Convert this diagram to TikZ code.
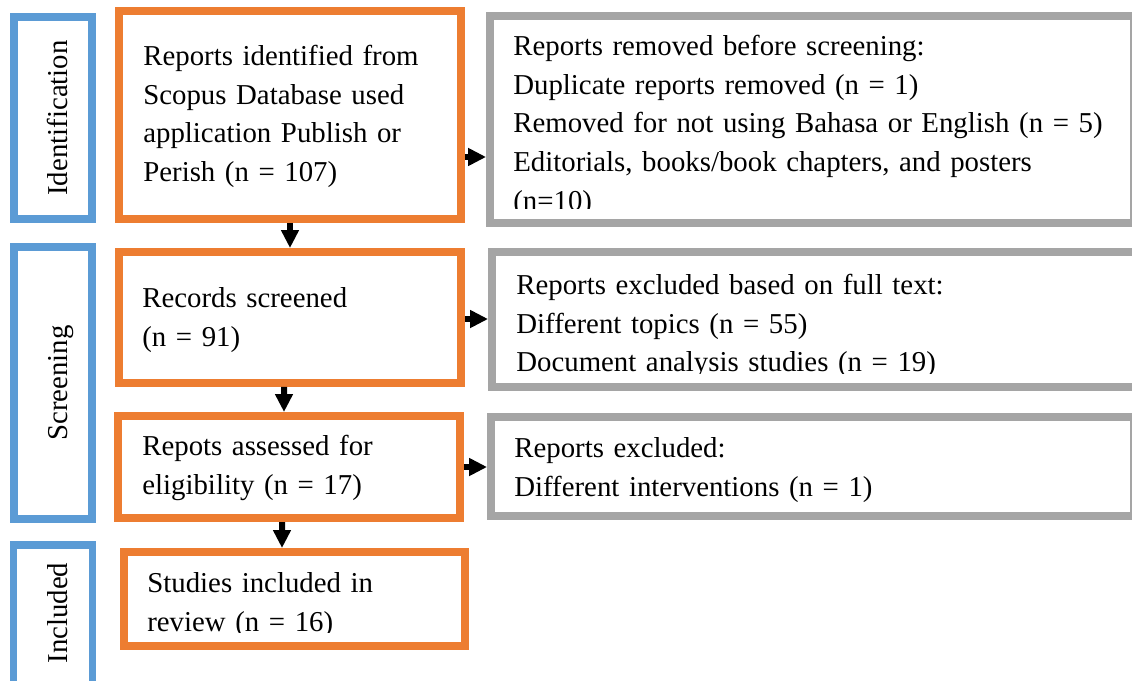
\documentclass[tikz,border=0pt]{standalone}
\usepackage{fontspec}
\setmainfont{Liberation Serif}
\usepackage{tikz}
\usetikzlibrary{arrows.meta, positioning}

\definecolor{stageblue}{HTML}{5B9BD5}
\definecolor{keeporange}{HTML}{ED7D31}
\definecolor{dropgray}{HTML}{A5A5A5}

\begin{document}
\begin{tikzpicture}[
    % One unit = one pixel of the layout, y axis pointing down
    x=0.02cm, y=-0.02cm,
    >={Triangle[length=0.36cm, width=0.34cm]},
    stage/.style={draw=stageblue, line width=0.15cm, rotate=90, inner sep=0pt,
        font=\fontsize{16.4}{22}\selectfont, text height=16pt, text depth=0pt},
    keep/.style={draw=keeporange, line width=0.16cm, inner sep=0pt},
    drop/.style={draw=dropgray, line width=0.16cm, inner sep=0pt},
    txt/.style={anchor=north west, inner sep=0pt, text width=13cm, align=left,
        font=\fontsize{16.4}{22}\selectfont, execute at begin node=\strut},
    flow/.style={->, line width=0.12cm}
]
    \useasboundingbox (0,0) rectangle (1132,680);
    \clip (0,0) rectangle (1132,680);

    % --- Stage columns ---
    \node[stage, minimum width=4.05cm, minimum height=1.57cm] (ident) at (53,118) {Identification};
    \node[stage, minimum width=5.45cm, minimum height=1.57cm] (screen) at (53,383) {Screening};
    \draw[stageblue, line width=0.15cm] (13.75,544.75) rectangle (92.25,760);
    \node[stage, draw=none] (incl) at (53,613) {Included};

    % --- Main flow boxes ---
    \node[keep, minimum width=6.84cm, minimum height=4.16cm] (idrep) at (290,115) {};
    \node[keep, minimum width=6.84cm, minimum height=2.62cm] (recs) at (290,317.5) {};
    \node[keep, minimum width=6.84cm, minimum height=2.04cm] (elig) at (289,467) {};
    \node[keep, minimum width=6.82cm, minimum height=1.88cm] (stud) at (294.5,599) {};

    % --- Side boxes (run off the right edge) ---
    \node[drop, minimum width=12.88cm, minimum height=4.15cm] (rem) at (812,119.25) {};
    \node[drop, minimum width=13.16cm, minimum height=2.7cm] (full) at (821,319.5) {};
    \node[drop, minimum width=12.86cm, minimum height=1.98cm] (excl) at (812.5,466.5) {};

    % --- Texts ---
    \node[txt] (idreptxt) at (143,38) {Reports identified from\\
        Scopus Database used\\ application Publish or\\ Perish (n = 107)};
    \node[txt] (recstxt) at (142,280) {Records screened\\ (n = 91)};
    \node[txt] (eligtxt) at (142,428) {Repots assessed for\\ eligibility (n = 17)};
    \begin{scope}
        \clip (128,556) rectangle (461,632);
        \node[txt] (studtxt) at (147,565) {Studies included in\\ review (n = 16)};
    \end{scope}

    \begin{scope}
        \clip (494,19) rectangle (1130,208);
        \node[txt] (remtxt) at (513,28) {Reports removed before screening:\\
            Duplicate reports removed (n = 1)\\
            Removed for not using Bahasa or English (n = 5)\\
            Editorials, books/book chapters, and posters\\ (n=10)};
    \end{scope}
    \begin{scope}
        \clip (496,257) rectangle (1132,373);
        \node[txt] (fulltxt) at (516,267) {Reports excluded based on full text:\\
            Different topics (n = 55)\\ Document analysis studies (n = 19)};
    \end{scope}
    \node[txt] (excltxt) at (514,430) {Reports excluded:\\ Different interventions (n = 1)};

    % --- Arrows ---
    \draw[flow] (idrep.south) -- (recs.north);
    \draw[flow] ([xshift=-0.12cm]recs.south) -- ([xshift=-0.1cm]elig.north);
    \draw[flow] ([xshift=-0.14cm]elig.south) -- ([xshift=-0.25cm]stud.north);

    \draw[flow] ([yshift=-0.84cm]idrep.east) -- ([yshift=-0.84cm]idrep.east -| rem.west);
    \draw[flow] ([yshift=-0.03cm]recs.east) -- ([yshift=-0.03cm]recs.east -| full.west);
    \draw[flow] (elig.east) -- (elig.east -| excl.west);
\end{tikzpicture}
\end{document}
